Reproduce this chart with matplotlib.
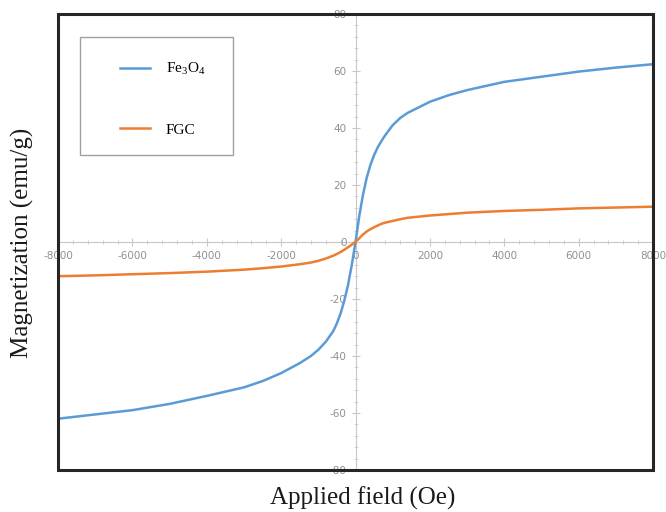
import numpy as np
import matplotlib
matplotlib.use('agg')
import matplotlib.pyplot as plt
from matplotlib.patches import Rectangle
from matplotlib.ticker import MultipleLocator

field = [-8000, -7000, -6000, -5000, -4000, -3000, -2500, -2000, -1500, -1200,
         -1000, -800, -600, -500, -400, -300, -200, -150, -100, -50, 0,
         50, 100, 150, 200, 300, 400, 500, 600, 700, 800, 1000, 1200, 1400,
         2000, 2500, 3000, 4000, 5000, 6000, 7000, 8000]
fe3o4 = [-62, -60.5, -59, -56.8, -54, -51, -48.8, -46, -42.5, -40,
         -37.8, -35, -31.3, -28.5, -25, -20.5, -15, -11.5, -8, -4, 0,
         4.5, 9, 12.8, 16.5, 22.5, 27, 30.5, 33.3, 35.5, 37.5, 41, 43.5, 45.3,
         49.2, 51.5, 53.3, 56.2, 58, 59.8, 61.2, 62.4]
fgc = [-12, -11.7, -11.3, -10.9, -10.4, -9.7, -9.2, -8.6, -7.8, -7.2,
       -6.6, -5.8, -4.8, -4.2, -3.5, -2.7, -1.8, -1.4, -0.9, -0.4, 0,
       0.7, 1.3, 2, 2.6, 3.7, 4.5, 5.2, 5.8, 6.4, 6.8, 7.4, 8, 8.5,
       9.3, 9.8, 10.3, 10.9, 11.3, 11.8, 12.1, 12.4]

labels = ['Fe$_3$O$_4$', 'FGC']
colors = ['#5b9bd5', '#ed7d31']

plt.rcParams['mathtext.default'] = 'regular'
plt.rcParams['axes.unicode_minus'] = False

fig = plt.figure(figsize=(6.66, 5.12), dpi=100)
ax = fig.add_axes([0.0871, 0.082, 0.8934, 0.8906])

ax.plot(field, fe3o4, color=colors[0], lw=1.8, label=labels[0])
ax.plot(field, fgc, color=colors[1], lw=1.8, label=labels[1])

ax.set_xlim(-8000, 8000)
ax.set_ylim(-80, 80)

# axes crossing at the origin, light grey
for side in ['left', 'bottom']:
    ax.spines[side].set_position('zero')
    ax.spines[side].set_color('#c8c8c8')
    ax.spines[side].set_linewidth(0.8)
    ax.spines[side].set_zorder(0)
ax.spines['top'].set_visible(False)
ax.spines['right'].set_visible(False)

ax.xaxis.set_minor_locator(MultipleLocator(400))
ax.yaxis.set_minor_locator(MultipleLocator(4))
ax.tick_params(which='both', colors='#c8c8c8', labelcolor='#909090',
               labelsize=7.5, direction='inout')
ax.tick_params(which='major', length=6)
ax.tick_params(which='minor', length=3)
ax.set_xticks([-8000, -6000, -4000, -2000, 0, 2000, 4000, 6000, 8000])
ax.set_yticks([-80, -60, -40, -20, 0, 20, 40, 60, 80])

# dark outer frame
ax.add_patch(Rectangle((0, 0), 1, 1, transform=ax.transAxes, fill=False,
                       lw=2.2, ec='#262626', clip_on=False, zorder=5))

# legend box drawn separately, entries placed inside it
ax.add_patch(Rectangle((0.037, 0.691), 0.257, 0.259, transform=ax.transAxes,
                       fill=False, lw=1.0, ec='#a0a0a0', zorder=4))
ax.legend(loc='upper left', bbox_to_anchor=(0.104, 0.897),
          borderaxespad=0, frameon=False, borderpad=0, labelspacing=3.0,
          handlelength=2.0, handletextpad=1.0,
          prop={'family': 'Liberation Serif', 'size': 11})

fig.text(0.033, 0.525, 'Magnetization (emu/g)', rotation=90, ha='center',
         va='center', family='Liberation Serif', fontsize=18, color='#1a1a1a')
fig.text(0.545, 0.027, 'Applied field (Oe)', ha='center', va='center',
         family='Liberation Serif', fontsize=18, color='#1a1a1a')

plt.savefig('out.png', dpi=100)
